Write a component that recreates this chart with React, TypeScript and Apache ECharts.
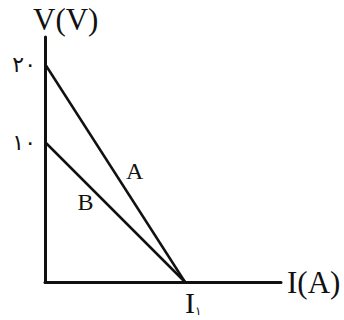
import React, { useEffect, useRef } from "react";
import * as echarts from "echarts";

const lineA: [number, number][] = [[0, 20], [1, 0]];
const lineB: [number, number][] = [[0, 10], [1, 0]];
const yTicksA = [20];
const yTicksB = [10];
const yLabelsA = ["۲۰"];
const yLabelsB = ["۱۰"];
const xTick = 1;

const SERIF = "'Liberation Serif', 'Times New Roman', serif";
const INK = "#111";

export default function App() {
  const ref = useRef<HTMLDivElement>(null);
  useEffect(() => {
    if (!ref.current) return;
    const chart = echarts.init(ref.current, undefined, { renderer: "svg" });
    const gridLeft = 45, gridTop = 37, gridRight = 63, gridBottom = 38;
    const plotW = 344 - gridLeft - gridRight;
    const plotH = 320 - gridTop - gridBottom;
    const xMax = (plotW / 140) * xTick;
    const yMaxA = (plotH / 218) * 20;
    const yMaxB = (plotH / 140) * 10;
    const tickLabel = {
      showMaxLabel: false,
      margin: 9,
      fontFamily: "'DejaVu Sans', sans-serif",
      fontSize: 22,
      color: INK,
    };
    chart.setOption({
      animation: false,
      grid: { left: gridLeft, top: gridTop, right: gridRight, bottom: gridBottom },
      xAxis: {
        type: "value",
        min: 0,
        max: xMax,
        interval: xTick,
        name: "I(A)",
        nameLocation: "end",
        nameGap: 6,
        nameTextStyle: { fontFamily: SERIF, fontSize: 31, color: INK },
        axisLine: { show: true, onZero: false, lineStyle: { color: INK, width: 3 } },
        axisTick: { show: false },
        splitLine: { show: false },
        axisLabel: {
          showMaxLabel: false,
          margin: 5,
          align: "left",
          formatter: (v: number) => (v === xTick ? "{i|I}{s|۱}" : ""),
          rich: {
            i: { fontFamily: SERIF, fontSize: 30, color: INK },
            s: { fontFamily: "'DejaVu Sans', sans-serif", fontSize: 12, color: INK, padding: [18, 0, 0, 0] },
          },
        },
      },
      yAxis: [
        {
          type: "value",
          min: 0,
          max: yMaxA,
          interval: 20,
          position: "left",
          name: "V(V)",
          nameLocation: "end",
          nameGap: 2,
          nameTextStyle: { fontFamily: SERIF, fontSize: 31, color: INK, align: "left", padding: [0, 0, 0, -12] },
          axisLine: { show: true, lineStyle: { color: INK, width: 3 } },
          axisTick: { show: false },
          splitLine: { show: false },
          axisLabel: {
            ...tickLabel,
            formatter: (v: number) => {
              const i = yTicksA.indexOf(v);
              return i >= 0 ? yLabelsA[i] : "";
            },
          },
        },
        {
          type: "value",
          min: 0,
          max: yMaxB,
          interval: 10,
          position: "left",
          axisLine: { show: false },
          axisTick: { show: false },
          splitLine: { show: false },
          axisLabel: {
            ...tickLabel,
            formatter: (v: number) => {
              const i = yTicksB.indexOf(v);
              return i >= 0 ? yLabelsB[i] : "";
            },
          },
        },
      ],
      series: [
        {
          name: "A",
          type: "line",
          yAxisIndex: 0,
          data: lineA,
          symbol: "none",
          lineStyle: { color: INK, width: 2.5 },
          markPoint: {
            symbol: "circle",
            symbolSize: 0,
            data: [{ coord: [0.64, 10.2], value: "A" }],
            label: { show: true, formatter: "A", fontFamily: SERIF, fontSize: 24, color: INK, position: "inside" },
          },
        },
        {
          name: "B",
          type: "line",
          yAxisIndex: 1,
          data: lineB,
          symbol: "none",
          lineStyle: { color: INK, width: 2.5 },
          markPoint: {
            symbol: "circle",
            symbolSize: 0,
            data: [{ coord: [0.29, 5.7], value: "B" }],
            label: { show: true, formatter: "B", fontFamily: SERIF, fontSize: 24, color: INK, position: "inside" },
          },
        },
      ],
    });
    return () => chart.dispose();
  }, []);
  return (
    <div
      ref={ref}
      style={{ position: "absolute", left: 0, top: 0, width: 344, height: 320, background: "#fff" }}
    />
  );
}
